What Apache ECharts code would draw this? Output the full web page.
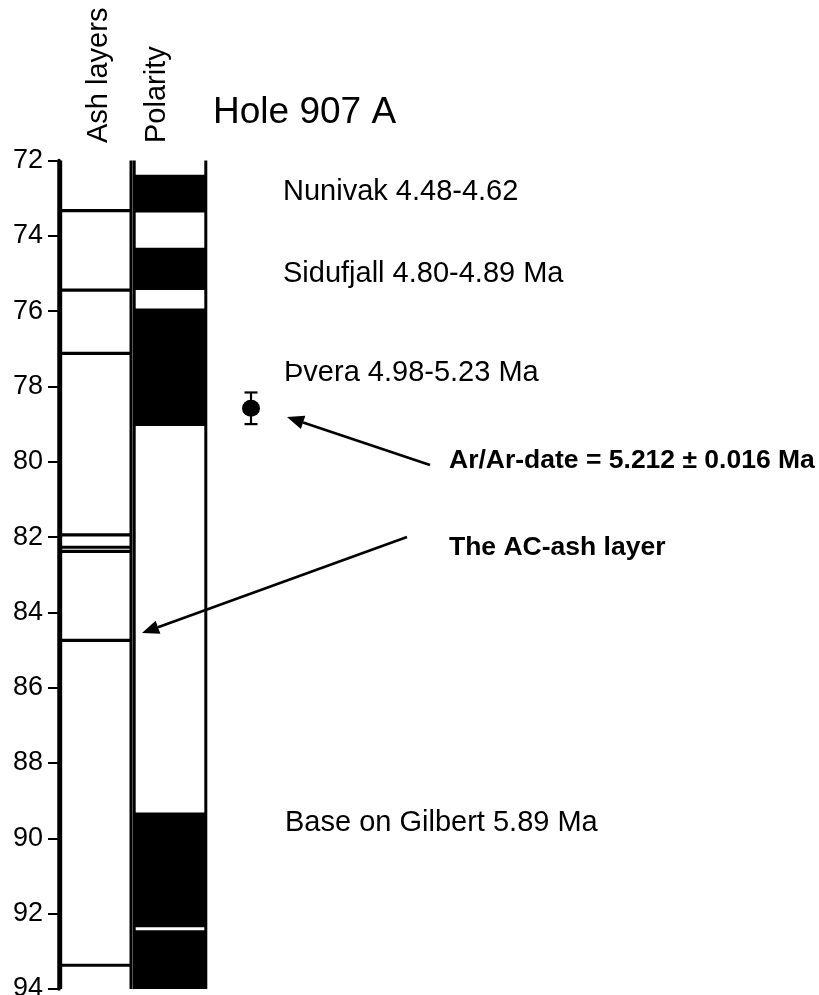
<!DOCTYPE html>
<html>
<head>
<meta charset="utf-8">
<script src="https://cdn.jsdelivr.net/npm/echarts@6/dist/echarts.min.js"></script>
<style>
  html, body { margin: 0; padding: 0; background: #fff; }
  #chart { width: 819px; height: 995px; }
</style>
</head>
<body>
<div id="chart"></div>
<script>
// columns of the log (x categories)
let columns = ['Ash layers', 'Polarity', 'Ar/Ar'];
// depth axis ticks (m)
let depthTicks = [72, 74, 76, 78, 80, 82, 84, 86, 88, 90, 92, 94];
// depths of the ash layers
let ashDepths = [73.33, 75.44, 77.12, 81.94, 82.27, 82.38, 84.74, 93.37];
// normal polarity intervals (black), [top, bottom]
let polarityNormal = [[72.38, 73.38], [74.32, 75.44], [75.93, 79.05], [89.31, 92.36], [92.44, 94]];
// Ar/Ar dated sample: depth and depth range of the error bar
let arArDepth = [78.58];
let arArRange = [78.16, 79.0];

let font = 'Liberation Sans, Arial, sans-serif';
let dotShift = 7;

function arrow(x1, y1, x2, y2) {
    let ang = Math.atan2(y2 - y1, x2 - x1);
    let len = 17, half = 7;
    let bx = x2 - len * Math.cos(ang), by = y2 - len * Math.sin(ang);
    let nx = -Math.sin(ang), ny = Math.cos(ang);
    return [{
        type: 'line',
        shape: { x1: x1, y1: y1, x2: bx, y2: by },
        style: { stroke: '#000', lineWidth: 2.6 }
    }, {
        type: 'polygon',
        shape: { points: [[x2, y2], [bx + nx * half, by + ny * half], [bx - nx * half, by - ny * half]] },
        style: { fill: '#000' }
    }];
}

function txt(x, y, s, size, weight, extra) {
    return Object.assign({
        type: 'text',
        x: x,
        y: y,
        style: {
            text: s,
            fill: '#000',
            font: (weight || 'normal') + ' ' + size + 'px ' + font,
            verticalAlign: 'middle',
            align: 'left'
        }
    }, extra || {});
}

let myChart = echarts.init(document.getElementById('chart'));

let option = {
    animation: false,
    backgroundColor: '#fff',
    grid: {
        left: 59,
        top: 160.5,
        width: 222,
        bottom: 6,
        containLabel: false,
        outerBoundsMode: 'none'
    },
    xAxis: {
        type: 'category',
        data: columns,
        show: false
    },
    yAxis: {
        type: 'value',
        inverse: true,
        min: depthTicks[0],
        max: depthTicks[depthTicks.length - 1],
        interval: 2,
        axisLine: { show: true, lineStyle: { color: '#000', width: 3.5 } },
        axisTick: { show: true, length: 11, lineStyle: { color: '#000', width: 2 } },
        axisLabel: { color: '#000', fontSize: 27, fontFamily: font, margin: 16 },
        splitLine: { show: false }
    },
    series: [{
        // polarity blocks
        type: 'custom',
        data: polarityNormal.map(function (d) { return [1, d[0], d[1]]; }),
        renderItem: function (params, api) {
            let p0 = api.coord([api.value(0), api.value(1)]);
            let p1 = api.coord([api.value(0), api.value(2)]);
            let w = api.size([1, 0])[0];
            return {
                type: 'rect',
                shape: { x: p0[0] - w / 2, y: p0[1], width: w, height: p1[1] - p0[1] },
                style: { fill: '#000' }
            };
        }
    }, {
        // column borders
        type: 'custom',
        data: [[0, depthTicks[0], depthTicks[depthTicks.length - 1]], [1, depthTicks[0], depthTicks[depthTicks.length - 1]]],
        renderItem: function (params, api) {
            let p0 = api.coord([api.value(0), api.value(1)]);
            let p1 = api.coord([api.value(0), api.value(2)]);
            let w = api.size([1, 0])[0];
            let xl = p0[0] - w / 2 + 1.2, xr = p0[0] + w / 2 - 1.2;
            if (api.value(0) === 0) { xl += 0.5; xr -= 0.8; }
            return {
                type: 'group',
                children: [{
                    type: 'line',
                    shape: { x1: xl, y1: p0[1], x2: xl, y2: p1[1] },
                    style: { stroke: '#000', lineWidth: 3 }
                }, {
                    type: 'line',
                    shape: { x1: xr, y1: p0[1], x2: xr, y2: p1[1] },
                    style: { stroke: '#000', lineWidth: 3 }
                }]
            };
        }
    }, {
        // ash layers
        type: 'custom',
        data: ashDepths.map(function (d) { return [0, d]; }),
        renderItem: function (params, api) {
            let p = api.coord([api.value(0), api.value(1)]);
            let w = api.size([1, 0])[0];
            return {
                type: 'line',
                shape: { x1: p[0] - w / 2, y1: p[1], x2: p[0] + w / 2 - 2, y2: p[1] },
                style: { stroke: '#000', lineWidth: 3.2 }
            };
        }
    }, {
        // Ar/Ar error bar
        type: 'custom',
        data: [[2, arArRange[0], arArRange[1]]],
        renderItem: function (params, api) {
            let p0 = api.coord([api.value(0), api.value(1)]);
            let p1 = api.coord([api.value(0), api.value(2)]);
            let x = p0[0] + dotShift;
            return {
                type: 'group',
                children: [{
                    type: 'line',
                    shape: { x1: x, y1: p0[1], x2: x, y2: p1[1] },
                    style: { stroke: '#000', lineWidth: 2.2 }
                }, {
                    type: 'line',
                    shape: { x1: x - 6.5, y1: p0[1], x2: x + 6.5, y2: p0[1] },
                    style: { stroke: '#000', lineWidth: 2.2 }
                }, {
                    type: 'line',
                    shape: { x1: x - 6.5, y1: p1[1], x2: x + 6.5, y2: p1[1] },
                    style: { stroke: '#000', lineWidth: 2.2 }
                }]
            };
        }
    }, {
        type: 'scatter',
        data: arArDepth.map(function (d) { return [2, d]; }),
        symbol: 'circle',
        symbolSize: [18, 17],
        symbolOffset: [dotShift, 0],
        itemStyle: { color: '#000', opacity: 1 }
    }],
    graphic: [
        txt(99, 143, columns[0], 29, 'normal', { rotation: Math.PI / 2 }),
        txt(157, 143, columns[1], 29, 'normal', { rotation: Math.PI / 2 }),
        txt(213, 113, 'Hole 907 A', 37),
        txt(283, 192, 'Nunivak 4.48-4.62', 29),
        txt(283, 274, 'Sidufjall 4.80-4.89 Ma', 29),
        txt(284, 373, 'Þvera 4.98-5.23 Ma', 29),
        txt(285, 823, 'Base on Gilbert 5.89 Ma', 29),
        txt(449, 461, 'Ar/Ar-date = 5.212 ± 0.016 Ma', 26.5, 'bold'),
        txt(449, 548, 'The AC-ash layer', 26.5, 'bold')
    ].concat(arrow(430, 465, 287, 417), arrow(407, 537, 142, 633))
};
myChart.setOption(option);
</script>
</body>
</html>
